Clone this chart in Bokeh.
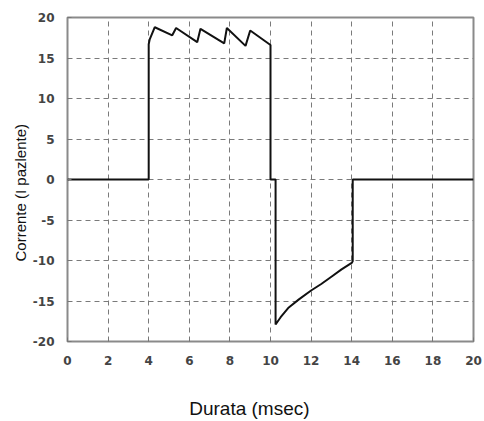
from bokeh.plotting import figure
from bokeh.models import FixedTicker, Range1d, Title
from bokeh.embed import file_html
from bokeh.resources import INLINE

# Waveform: time (msec) and current (I paziente)
time_ms = [0.0, 4.0, 4.0, 4.05, 4.3, 5.16, 5.35, 6.39, 6.55, 7.72, 7.85, 8.77, 9.0,
           10.0, 10.0, 10.25, 10.25, 10.5, 10.9, 11.4, 12.0, 12.5, 13.0, 13.5, 14.0,
           14.05, 14.05, 20.0]
current = [0.0, 0.0, 16.7, 17.3, 18.8, 17.8, 18.7, 16.95, 18.6, 16.8, 18.7, 16.5, 18.4,
           16.6, 0.0, 0.0, -17.9, -17.0, -15.8, -14.8, -13.7, -12.9, -12.0, -11.1, -10.3,
           -10.1, 0.0, 0.0]

x_ticks = [0, 2, 4, 6, 8, 10, 12, 14, 16, 18, 20]
y_ticks = [-20, -15, -10, -5, 0, 5, 10, 15, 20]
x_title = "Durata (msec)"
y_title = "Corrente (I pazlente)"

p = figure(width=484, height=421, output_backend="svg", toolbar_location=None,
           x_range=Range1d(0, 20), y_range=Range1d(-20, 20),
           min_border_left=67, min_border_right=11, min_border_top=17, min_border_bottom=79)

p.outline_line_color = "#8a8a8a"
p.outline_line_width = 2

for ax, ticks in ((p.xaxis, x_ticks), (p.yaxis, y_ticks)):
    ax.ticker = FixedTicker(ticks=ticks)
    ax.major_label_overrides = {t: str(t) for t in ticks}
    ax.axis_line_color = None
    ax.major_tick_in = 4
    ax.major_tick_out = 0
    ax.major_tick_line_color = "#777777"
    ax.minor_tick_line_color = None
    ax.major_label_text_font = "DejaVu Sans"
    ax.major_label_text_font_style = "bold"
    ax.major_label_text_font_size = "12px"
    ax.major_label_text_color = "#444444"

p.xaxis.major_label_standoff = 14
p.yaxis.major_label_standoff = 13

# x-axis title (trailing no-break spaces shift the visible text left of centre)
p.xaxis.axis_label = x_title + "\u00a0" * 8
p.xaxis.axis_label_standoff = 30
p.xaxis.axis_label_text_font = "Liberation Sans"
p.xaxis.axis_label_text_font_size = "19px"
p.xaxis.axis_label_text_font_style = "normal"
p.xaxis.axis_label_text_color = "#111111"

p.xgrid.ticker = FixedTicker(ticks=x_ticks)
p.ygrid.ticker = FixedTicker(ticks=y_ticks)
for g in (p.xgrid, p.ygrid):
    g.grid_line_color = "#7a7a7a"
    g.grid_line_dash = "5 4"
    g.grid_line_width = 1

p.line(time_ms, current, line_color="#111111", line_width=2)

yt = Title(text=y_title, align="left", offset=80, standoff=2,
           text_font="Liberation Sans", text_font_size="15px",
           text_font_style="normal", text_color="#111111")
p.add_layout(yt, "left")

open("out.html", "w").write(file_html(p, INLINE))
